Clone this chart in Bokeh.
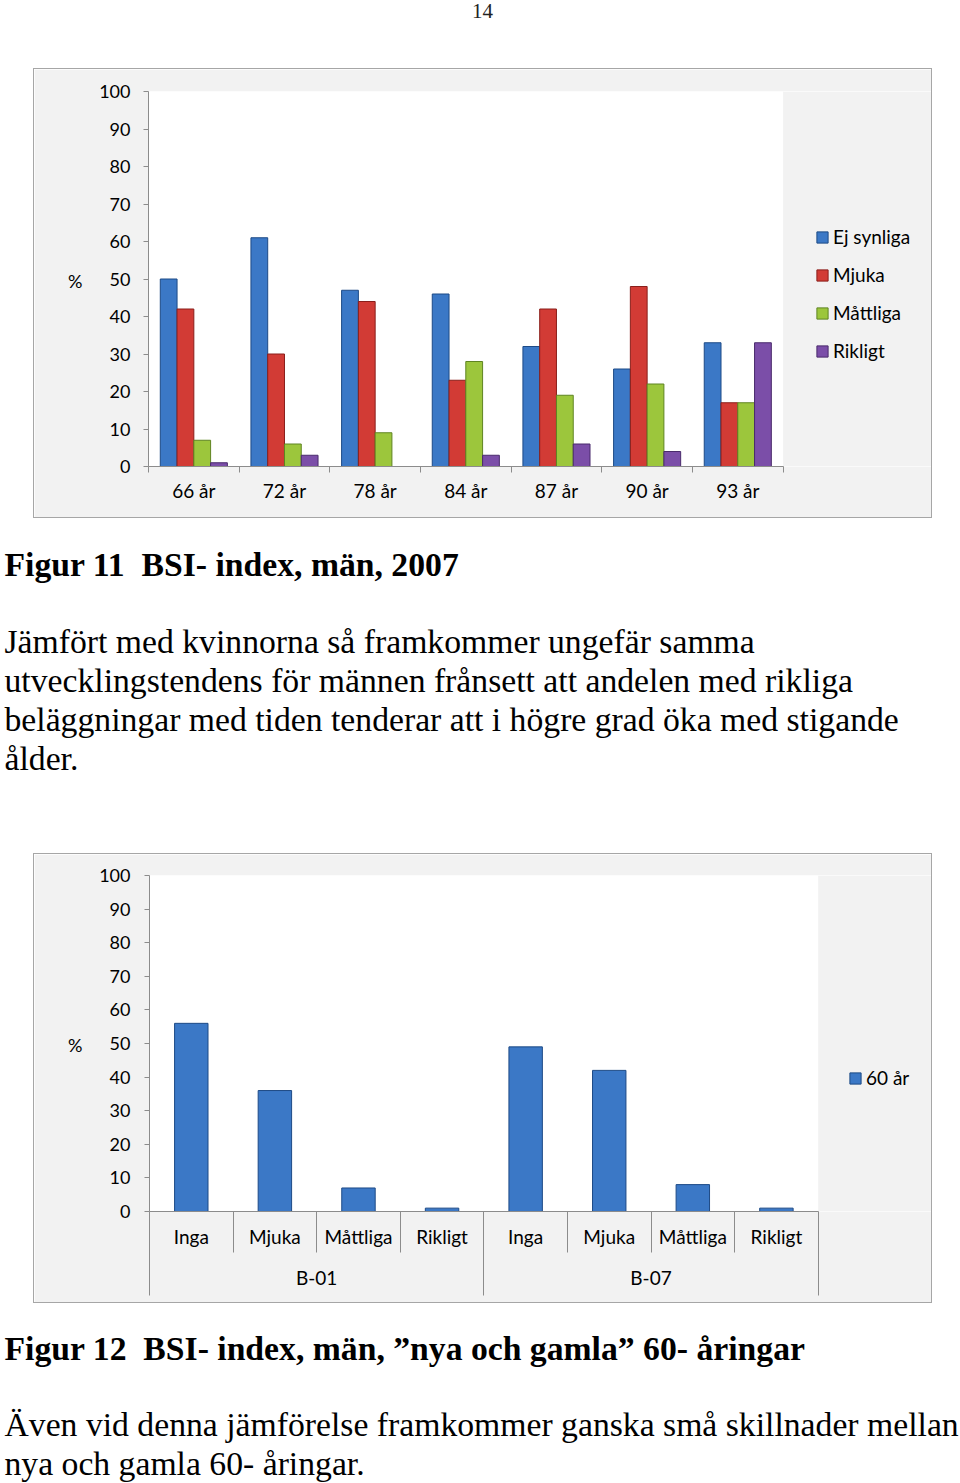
from bokeh.plotting import figure
from bokeh.models import (Range1d, FixedTicker, LinearAxis, Legend, LegendItem,
                          Spacer, ColumnDataSource, BoxAnnotation)
from bokeh.layouts import column, row
from bokeh.core.properties import value
from bokeh.embed import file_html
from bokeh.resources import INLINE

# ---------------- data ----------------
ages = ["66 år", "72 år", "78 år", "84 år", "87 år", "90 år", "93 år"]
series_names = ["Ej synliga", "Mjuka", "Måttliga", "Rikligt"]
ej_synliga = [50, 61, 47, 46, 32, 26, 33]
mjuka = [42, 30, 44, 23, 42, 48, 17]
mattliga = [7, 6, 9, 28, 19, 22, 17]
rikligt = [1, 3, 0, 3, 6, 4, 33]

groups2 = ["B-01", "B-07"]
grades2 = ["Inga", "Mjuka", "Måttliga", "Rikligt"]
b01 = [56, 36, 7, 1]
b07 = [49, 42, 8, 1]
series2_name = "60 år"

y_ticks = list(range(0, 101, 10))
y_title = "%"

page_number = "14"
heading11 = "Figur 11\u00a0\u00a0BSI- index, män, 2007"
para11 = ["Jämfört med kvinnorna så framkommer ungefär samma",
          "utvecklingstendens för männen frånsett att andelen med rikliga",
          "beläggningar med tiden tenderar att i högre grad öka med stigande",
          "ålder."]
heading12 = "Figur 12\u00a0\u00a0BSI- index, män, ”nya och gamla” 60- åringar"
para12 = ["Även vid denna jämförelse framkommer ganska små skillnader mellan",
          "nya och gamla 60- åringar."]

# ---------------- styles ----------------
FILL = ["#3b78c6", "#d23b35", "#9cc63c", "#7b4ea8"]
LINE = ["#1d4a86", "#8a1f1b", "#5f8422", "#4a2b6c"]
SANS = "Lato"
SERIF = "Liberation Serif"
GRID = "#8c8c8c"
BOX_BG = "#f2f2f2"
BOX_BORDER = "#a6a6a6"
BODY = "33.7px"
LBL = "19px"
TICK = "18px"
CHART_W, CHART_H = 899, 450


def text_fig(h):
    p = figure(width=960, height=h, x_range=Range1d(0, 960), y_range=Range1d(h, 0),
               toolbar_location=None, output_backend="svg", min_border=0)
    p.axis.visible = False
    p.grid.visible = False
    p.outline_line_color = None
    p.background_fill_color = "white"
    p.border_fill_color = "white"
    return p


def chart_fig(n, left, top, bottom, plot_w):
    # frame spans to the right edge so the legend can sit inside it;
    # the category area (0..n) occupies plot_w pixels of the frame.
    frame_w = CHART_W - 2 - left
    x_end = n * frame_w / plot_w
    p = figure(width=CHART_W, height=CHART_H, x_range=Range1d(0, x_end),
               y_range=Range1d(0, 100), toolbar_location=None, output_backend="svg",
               min_border_left=left, min_border_right=0, min_border_top=top,
               min_border_bottom=bottom, x_axis_type=None, y_axis_type=None)
    p.background_fill_color = "white"
    p.border_fill_color = BOX_BG
    p.outline_line_color = None
    p.xgrid.visible = False
    p.ygrid.grid_line_color = GRID
    p.ygrid.grid_line_width = 1
    p.styles = {"border": "1px solid " + BOX_BORDER}
    # grey area to the right of the category region (legend area)
    p.add_layout(BoxAnnotation(left=n, fill_color=BOX_BG, fill_alpha=1,
                               line_color=None, line_alpha=0, level="glyph"))
    return p


def font_axis(ax, standoff, size=LBL):
    ax.major_label_standoff = standoff
    ax.major_label_text_font = SANS
    ax.major_label_text_font_size = size
    ax.major_label_text_color = "black"


def add_yaxes(p, standoff, title_standoff):
    ax = LinearAxis(ticker=FixedTicker(ticks=y_ticks))
    ax.axis_line_color = GRID
    ax.major_tick_line_color = GRID
    ax.major_tick_out = 5
    ax.major_tick_in = 0
    ax.minor_tick_line_color = None
    font_axis(ax, standoff, TICK)
    p.add_layout(ax, "left")
    p.ygrid.ticker = ax.ticker
    # axis title "%" drawn horizontally as a second axis label
    t = LinearAxis(ticker=FixedTicker(ticks=[49.5]))
    t.major_label_overrides = {49.5: y_title}
    t.axis_line_color = None
    t.major_tick_line_color = None
    t.minor_tick_line_color = None
    t.major_tick_out = 0
    t.major_tick_in = 0
    font_axis(t, title_standoff, TICK)
    p.add_layout(t, "left")


def make_legend(items, loc, spacing):
    return Legend(items=items, location=loc, orientation="vertical",
                  background_fill_alpha=0, border_line_color=None,
                  glyph_width=14, glyph_height=14, label_standoff=4, spacing=spacing,
                  padding=0, margin=0, label_height=20,
                  label_text_font=SANS, label_text_font_size=LBL,
                  label_text_color="black")


# ---------------- header ----------------
header = text_fig(68)
header.text(x=[482], y=[10], text=[page_number], text_font=value(SERIF),
            text_font_size="21px", text_align="center", text_baseline="middle",
            text_color="#222222")

# ---------------- chart 1 ----------------
n1 = len(ages)
p1 = chart_fig(n1, 114, 22, 53, 633)
add_yaxes(p1, 13, 14)

centers1 = [i + 0.5 for i in range(n1)]
xax1 = LinearAxis(ticker=FixedTicker(ticks=centers1, minor_ticks=list(range(n1 + 1))),
                  bounds=(0, n1))
xax1.major_label_overrides = {c: a for c, a in zip(centers1, ages)}
xax1.axis_line_color = GRID
xax1.major_tick_out = 0
xax1.major_tick_in = 0
xax1.minor_tick_line_color = GRID
xax1.minor_tick_out = 6
xax1.minor_tick_in = 0
font_axis(xax1, 6)
p1.add_layout(xax1, "below")

bw = 0.185
vals1 = [ej_synliga, mjuka, mattliga, rikligt]
items1 = []
for k, (name, vals) in enumerate(zip(series_names, vals1)):
    off = (k - 1.5) * bw
    src = ColumnDataSource(dict(x=[c + off for c in centers1], top=vals))
    r = p1.vbar(x="x", top="top", width=bw, bottom=0, source=src,
                fill_color=FILL[k], line_color=LINE[k], line_width=1)
    items1.append(LegendItem(label=name, renderers=[r]))

p1.add_layout(make_legend(items1, (667, 104), 15))

# ---------------- middle text ----------------
mid = text_fig(335)
mid.text(x=[4], y=[46], text=[heading11], text_font=value(SERIF),
         text_font_size=BODY, text_font_style="bold", text_baseline="middle",
         text_color="black")
mid.text(x=[4] * len(para11), y=[123 + 39 * i for i in range(len(para11))],
         text=para11, text_font=value(SERIF), text_font_size=BODY,
         text_baseline="middle", text_color="black")

# ---------------- chart 2 ----------------
vals2 = b01 + b07
n2 = len(vals2)
p2 = chart_fig(n2, 115, 21, 93, 667)
add_yaxes(p2, 14, 14)

centers2 = [i + 0.5 for i in range(n2)]
labels2 = grades2 * len(groups2)
xax2 = LinearAxis(ticker=FixedTicker(ticks=centers2, minor_ticks=list(range(n2 + 1))),
                  bounds=(0, n2))
xax2.major_label_overrides = {c: a for c, a in zip(centers2, labels2)}
xax2.axis_line_color = GRID
xax2.major_tick_out = 0
xax2.major_tick_in = 0
xax2.minor_tick_line_color = GRID
xax2.minor_tick_out = 41
xax2.minor_tick_in = 0
font_axis(xax2, -28)
p2.add_layout(xax2, "below")

ng = len(grades2)
gcenters = [ng * g + ng / 2 for g in range(len(groups2))]
xax2b = LinearAxis(ticker=FixedTicker(ticks=gcenters,
                                      minor_ticks=[ng * g for g in range(len(groups2) + 1)]))
xax2b.major_label_overrides = {c: g for c, g in zip(gcenters, groups2)}
xax2b.axis_line_color = None
xax2b.major_tick_out = 0
xax2b.major_tick_in = 0
xax2b.minor_tick_line_color = GRID
xax2b.minor_tick_out = 45
xax2b.minor_tick_in = 4
font_axis(xax2b, -30)
p2.add_layout(xax2b, "below")

src2 = ColumnDataSource(dict(x=centers2, top=vals2))
r2 = p2.vbar(x="x", top="top", width=0.4, bottom=0, source=src2,
             fill_color=FILL[0], line_color=LINE[0], line_width=1)
p2.add_layout(make_legend([LegendItem(label=series2_name, renderers=[r2])],
                          (699, 122), 0))

# ---------------- bottom text ----------------
bot = text_fig(180)
bot.text(x=[4], y=[45], text=[heading12], text_font=value(SERIF),
         text_font_size=BODY, text_font_style="bold", text_baseline="middle",
         text_color="black")
bot.text(x=[4] * len(para12), y=[121 + 39 * i for i in range(len(para12))],
         text=para12, text_font=value(SERIF), text_font_size=BODY,
         text_baseline="middle", text_color="black")

layout = column(
    header,
    row(Spacer(width=33, height=CHART_H), p1, Spacer(width=28, height=CHART_H)),
    mid,
    row(Spacer(width=33, height=CHART_H), p2, Spacer(width=28, height=CHART_H)),
    bot,
)

open("out.html", "w").write(file_html(layout, INLINE))
